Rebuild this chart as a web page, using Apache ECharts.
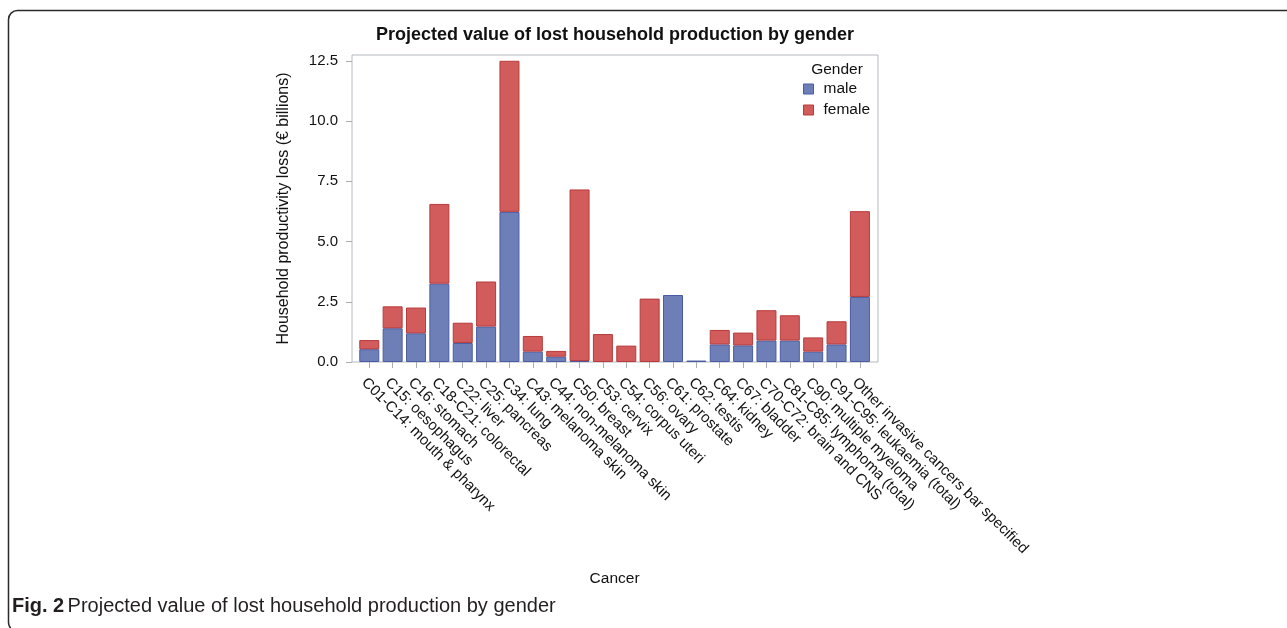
<!DOCTYPE html>
<html>
<head>
<meta charset="utf-8">
<script src="https://cdn.jsdelivr.net/npm/echarts@6/dist/echarts.min.js"></script>
<style>
html,body{margin:0;padding:0;background:#fff;}
#main{width:1287px;height:628px;}
</style>
</head>
<body>
<div id="main"></div>
<script>
const categories = [
  "C01-C14: mouth & pharynx","C15: oesophagus","C16: stomach","C18-C21: colorectal",
  "C22: liver","C25: pancreas","C34: lung","C43: melanoma skin","C44: non-melanoma skin",
  "C50: breast","C53: cervix","C54: corpus uteri","C56: ovary","C61: prostate","C62: testis",
  "C64: kidney","C67: bladder","C70-C72: brain and CNS","C81-C85: lymphoma (total)",
  "C90: multiple myeloma","C91-C95: leukaemia (total)","Other invasive cancers bar specified"
];
const male =   [0.53,1.40,1.19,3.25,0.79,1.47,6.23,0.43,0.22,0.04,0,   0,   0,   2.78,0.06,0.73,0.69,0.89,0.89,0.43,0.73,2.70];
const female = [0.38,0.91,1.07,3.31,0.84,1.87,6.27,0.65,0.24,7.12,1.16,0.68,2.63,0,   0,   0.60,0.53,1.26,1.05,0.59,0.96,3.56];
const yTicks = [0, 2.5, 5, 7.5, 10, 12.5];
const seriesNames = ["male","female"];

// zero values are drawn as no bar at all
const asBars = arr => arr.map(v => (v === 0 ? '-' : v));

const chart = echarts.init(document.getElementById('main'));
const FONT = '"Liberation Sans", Arial, sans-serif';
const axisGray = '#a9adb2';
const yMax = 12.74;

chart.setOption({
  animation: false,
  backgroundColor: '#ffffff',
  textStyle: { fontFamily: FONT },
  grid: [
    { left: 352, top: 55, width: 526, height: 307, show: true, borderColor: '#b4b8bd', borderWidth: 1, backgroundColor: 'transparent' },
    { left: 357.6, top: 55, width: 514, height: 307 }
  ],
  xAxis: [
    { gridIndex: 0, type: 'category', data: categories, show: false },
    { gridIndex: 1, type: 'category', data: categories,
      axisLine: { show: false },
      axisTick: { show: true, alignWithLabel: true, length: 6, lineStyle: { color: axisGray } },
      axisLabel: { interval: 0, rotate: -45, fontSize: 15, color: '#111', margin: 13,
        verticalAlign: 'top', fontFamily: FONT },
      name: 'Cancer', nameLocation: 'middle', nameGap: 209,
      nameTextStyle: { fontSize: 15.5, color: '#111', fontFamily: FONT }
    }
  ],
  yAxis: [
    { gridIndex: 0, type: 'value', min: 0, max: yMax,
      axisLine: { show: false },
      splitLine: { show: false },
      axisTick: { show: true, length: 6, lineStyle: { color: axisGray }, customValues: yTicks },
      axisLabel: { fontSize: 15, color: '#111', margin: 14, customValues: yTicks,
        formatter: v => Number(v).toFixed(1), fontFamily: FONT },
      name: 'Household productivity loss (€ billions)', nameLocation: 'middle', nameGap: 60,
      nameTextStyle: { fontSize: 16, color: '#111', fontFamily: FONT }
    },
    { gridIndex: 1, type: 'value', min: 0, max: yMax, show: false, splitLine: { show: false } }
  ],
  legend: {
    orient: 'vertical', left: 803, top: 81, padding: 0, itemGap: 5,
    itemWidth: 10, itemHeight: 10, icon: 'rect',
    data: seriesNames,
    textStyle: { fontSize: 15.5, color: '#111', lineHeight: 15, padding: [0,0,0,5], fontFamily: FONT },
    itemStyle: { borderWidth: 1 }
  },
  series: [
    { name: 'male', type: 'bar', stack: 'g', xAxisIndex: 1, yAxisIndex: 1, data: asBars(male),
      barWidth: 20,
      itemStyle: { color: '#6e7fb7', borderColor: '#4a5ba3', borderWidth: 1 } },
    { name: 'female', type: 'bar', stack: 'g', xAxisIndex: 1, yAxisIndex: 1, data: asBars(female),
      barWidth: 20,
      itemStyle: { color: '#d25b5c', borderColor: '#b83a3b', borderWidth: 1 } }
  ],
  graphic: [
    { type: 'rect', shape: { x: 8.5, y: 10.5, width: 1320, height: 621, r: 9 },
      style: { fill: 'none', stroke: '#2b2b2b', lineWidth: 1.5 }, silent: true, z: 0 },
    { type: 'text', x: 615, y: 35,
      style: { text: 'Projected value of lost household production by gender',
        font: 'bold 18px ' + FONT, fill: '#111', textAlign: 'center', textVerticalAlign: 'middle' } },
    { type: 'text', x: 837, y: 70,
      style: { text: 'Gender', font: '15.5px ' + FONT, fill: '#111', textAlign: 'center', textVerticalAlign: 'middle' } },
    { type: 'text', x: 12, y: 606,
      style: {
        text: '{b|Fig. 2} {r|Projected value of lost household production by gender}',
        textVerticalAlign: 'middle',
        rich: {
          b: { font: 'bold 20px ' + FONT, fill: '#231f20' },
          r: { font: '20px ' + FONT, fill: '#231f20' }
        }
      } }
  ]
});
</script>
</body>
</html>
